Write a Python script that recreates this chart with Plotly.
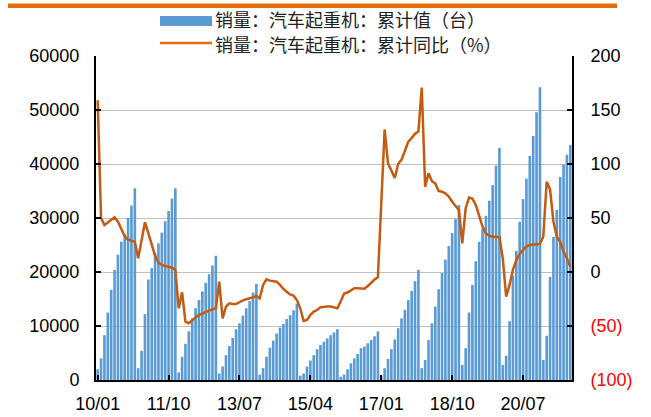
import pandas as pd
import plotly.graph_objects as go

months = [d.strftime("%Y-%m") for d in pd.date_range("2010-01-01", periods=141, freq="MS")]

cum_sales = [
    2000, 4000, 8300, 12500, 16700, 20400, 23200, 25600, 27000, 30000, 32300, 35500,
    2200, 5400, 12200, 18600, 20700, 23500, 25300, 27300, 29400, 31300, 33600, 35500,
    1400, 4300, 6700, 9000, 11400, 13300, 14800, 16400, 18000, 19600, 21200, 23000,
    1200, 2500, 4600, 6300, 7800, 9400, 10500, 11900, 13300, 14600, 16200, 17800,
    1000, 2200, 4300, 6000, 7300, 8600, 9700, 10400, 11300, 12000, 12900, 14100,
    800, 1200, 2500, 3600, 4600, 5700, 6500, 7100, 7700, 8300, 8800, 9400,
    600, 1000, 2000, 3100, 4000, 4800, 5900, 6200, 6800, 7400, 8100, 9000,
    800, 2200, 3900, 5700, 7500, 9600, 11400, 13000, 14800, 16500, 18300, 20400,
    2200, 3700, 7400, 10500, 13600, 16800, 19800, 22300, 24800, 27200, 29800, 32400,
    2800, 5900, 12500, 17600, 22000, 25600, 28000, 30400, 33200, 36100, 39700, 43000,
    2800, 4500, 10900, 19300, 23900, 29300, 33500, 37300, 41500, 45200, 49600, 54200,
    3700, 8200, 19100, 26500, 31500, 37600, 39900, 41700, 43500,
]

cum_yoy = [
    159, 50, 43.5, 46, 48, 50.6, 46.6, 40.4, 33, 30, 29, 28,
    12.7, 31, 46, 36, 25, 15, 8.6, 6.5, 5.5, 4.6, 4, 1.9,
    -33.6, -18.8, -46, -47.5, -44.4, -42, -39.8, -38.3, -36.7, -35.8, -34.6, -33.6,
    -9, -43, -32, -29, -29.6, -29.6, -28, -26.2, -25.3, -24.7, -23.5, -22.2,
    -24.4, -12, -6.8, -8, -8.3, -9, -12, -15.7, -18.2, -20.7, -21.9, -26,
    -33.6, -45.4, -44.4, -39.8, -36.7, -35.2, -32.7, -32, -32, -32, -32.7, -33.6,
    -27, -20, -19, -17, -15, -15, -15, -15.5, -13, -10, -7, -5,
    63, 132, 100.6, 94, 87, 100, 104, 112, 120.7, 124, 128, 130,
    170.7, 79, 91.4, 84, 82, 75, 74.4, 72.8, 69.8, 65, 61, 57.4,
    26.5, 59, 69, 68, 62, 52.8, 42, 35.8, 33.6, 32.7, 32.7, 32.4,
    12.7, -22.8, -12, 1.9, 11, 16.7, 20.4, 23.5, 25, 25.6, 25.6, 26,
    32.7, 83.6, 76.5, 46.6, 32.7, 28, 18.8, 12.7, 4.9,
]

x_tick_vals = ["2010-01", "2011-10", "2013-07", "2015-04", "2017-01", "2018-10", "2020-07"]
x_tick_text = ["10/01", "11/10", "13/07", "15/04", "17/01", "18/10", "20/07"]
left_ticks = [0, 10000, 20000, 30000, 40000, 50000, 60000]
left_text = ["0", "10000", "20000", "30000", "40000", "50000", "60000"]
right_ticks = [-100, -50, 0, 50, 100, 150, 200]
right_text = ['<span style="color:#FF0000">(100)</span>', '<span style="color:#FF0000">(50)</span>',
              "0", "50", "100", "150", "200"]

legend_names = ["销量：汽车起重机：累计值（台）", "销量：汽车起重机：累计同比（%）"]

BAR_C = "#5B9BD5"
LINE_C = "#C55A11"
NUM_FONT = "Liberation Sans"
CJK_FONT = "Noto Sans CJK SC"

fig = go.Figure()
fig.add_trace(go.Bar(x=months, y=cum_sales, marker=dict(color=BAR_C, line=dict(width=0)),
                     name=legend_names[0], yaxis="y"))
fig.add_trace(go.Scatter(x=months, y=cum_yoy, mode="lines", line=dict(color=LINE_C, width=2.5),
                         name=legend_names[1], yaxis="y2"))

fig.update_layout(
    width=651, height=417,
    margin=dict(l=96, r=79, t=56, b=37, autoexpand=False),
    paper_bgcolor="white", plot_bgcolor="white",
    showlegend=False,
    bargap=0.22,
    font=dict(family=NUM_FONT, size=18, color="#000000"),
    xaxis=dict(type="category", categoryorder="array", categoryarray=months,
               range=[-0.5, len(months) - 0.5], automargin=False,
               tickmode="array", tickvals=x_tick_vals, ticktext=x_tick_text,
               ticks="inside", ticklen=5, tickwidth=2, tickcolor="#000",
               showline=True, linecolor="#000", linewidth=2, showgrid=False,
               ticklabelstandoff=6, tickfont=dict(family=NUM_FONT, size=18)),
    yaxis=dict(range=[0, 60000], tickmode="array", tickvals=left_ticks, ticktext=left_text,
               automargin=False,
               ticks="inside", ticklen=5, tickwidth=1.5, tickcolor="#000",
               showline=True, linecolor="#000", linewidth=2,
               showgrid=True, gridcolor="#BFBFBF", gridwidth=1, zeroline=False,
               ticklabelstandoff=11, tickfont=dict(family=NUM_FONT, size=18)),
    yaxis2=dict(range=[-100, 200], overlaying="y", side="right", tickmode="array",
                tickvals=right_ticks, ticktext=right_text, automargin=False,
                ticks="inside", ticklen=5, tickwidth=1.5, tickcolor="#000",
                showline=True, linecolor="#000", linewidth=2,
                showgrid=False, zeroline=False,
                ticklabelstandoff=13, tickfont=dict(family=NUM_FONT, size=18)),
)

def px_x(px):
    return (px - 96) / 476

def px_y(py):
    return (380 - py) / 324

# top decorative orange band
fig.add_shape(type="rect", xref="paper", yref="paper", x0=px_x(8), x1=px_x(617),
              y0=px_y(8), y1=px_y(3.5), fillcolor="#E46C0A", line=dict(width=0), layer="above")

# manual legend
fig.add_shape(type="rect", xref="paper", yref="paper", x0=px_x(160), x1=px_x(212),
              y0=px_y(26), y1=px_y(16), fillcolor=BAR_C, line=dict(width=0))
fig.add_shape(type="line", xref="paper", yref="paper", x0=px_x(160), x1=px_x(212),
              y0=px_y(43), y1=px_y(43), line=dict(color="#E46C0A", width=2.5))
for name, py in zip(legend_names, [19, 44]):
    fig.add_annotation(text=name, xref="paper", yref="paper",
                       x=px_x(214), y=px_y(py), xanchor="left", yanchor="middle", align="left",
                       showarrow=False, borderpad=0,
                       font=dict(family=CJK_FONT, size=18, color="#222"))

fig.write_html("out.html", config={"displayModeBar": False},
               post_script="document.body.style.margin='0px';")
